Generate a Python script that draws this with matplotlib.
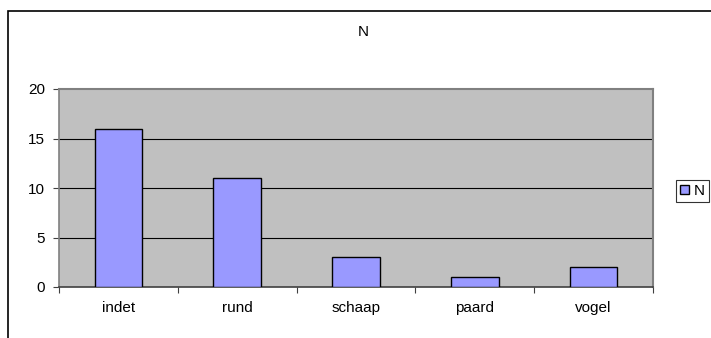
import matplotlib.pyplot as plt
from matplotlib.patches import Rectangle

plt.rcParams['font.family'] = ['Liberation Sans', 'DejaVu Sans']

categories = ['indet', 'rund', 'schaap', 'paard', 'vogel']
counts = [16, 11, 3, 1, 2]
series_name = 'N'

W, H = 711, 338
fig = plt.figure(figsize=(W / 100, H / 100), dpi=100)
fig.patch.set_facecolor('white')

# outer chart frame (runs off the right and bottom edge)
fig.patches.append(Rectangle((8 / W, -0.1), 1.2, 1.1 - 11 / H, transform=fig.transFigure,
                             fill=False, edgecolor='black', linewidth=1.2))

ax = fig.add_axes([59 / W, 1 - 287 / H, (653 - 59) / W, (287 - 89) / H])
ax.set_facecolor('#C0C0C0')

x = list(range(len(categories)))
ax.bar(x, counts, width=0.4, color='#9999FF', edgecolor='black', linewidth=1.0, zorder=3)

ax.set_xlim(-0.5, len(categories) - 0.5)
ax.set_ylim(0, 20)
ax.set_yticks([0, 5, 10, 15, 20])
ax.set_xticks(x)
ax.set_xticklabels(categories)
ax.set_xticks([i + 0.5 for i in range(-1, len(categories))], minor=True)

for v in [5, 10, 15]:
    ax.axhline(v, color='black', linewidth=0.8, zorder=1)

for side in ['top', 'right']:
    ax.spines[side].set_color('#808080')
    ax.spines[side].set_linewidth(1.5)
ax.spines['left'].set_color('#808080')
ax.spines['left'].set_linewidth(1.2)
ax.spines['bottom'].set_color('#404040')
ax.spines['bottom'].set_linewidth(1.2)

ax.tick_params(axis='y', length=4, width=0.8, color='#404040', labelsize=11, pad=6)
ax.tick_params(axis='x', which='major', length=0, labelsize=11, pad=10)
ax.tick_params(axis='x', which='minor', length=4, width=0.8, color='#404040')

fig.text(363 / W, 1 - 32 / H, 'N', ha='center', va='center', fontsize=11)

leg = ax.legend([Rectangle((0, 0), 1, 1, facecolor='#9999FF', edgecolor='black')],
                [series_name], loc='center right', bbox_to_anchor=(709 / W, 1 - 191 / H),
                bbox_transform=fig.transFigure, fontsize=11, frameon=True, fancybox=False,
                handlelength=0.6, handleheight=0.6, handletextpad=0.35, borderpad=0.25,
                borderaxespad=0)
leg.get_frame().set_edgecolor('black')
leg.get_frame().set_linewidth(0.8)

fig.savefig('out.png', dpi=100)
